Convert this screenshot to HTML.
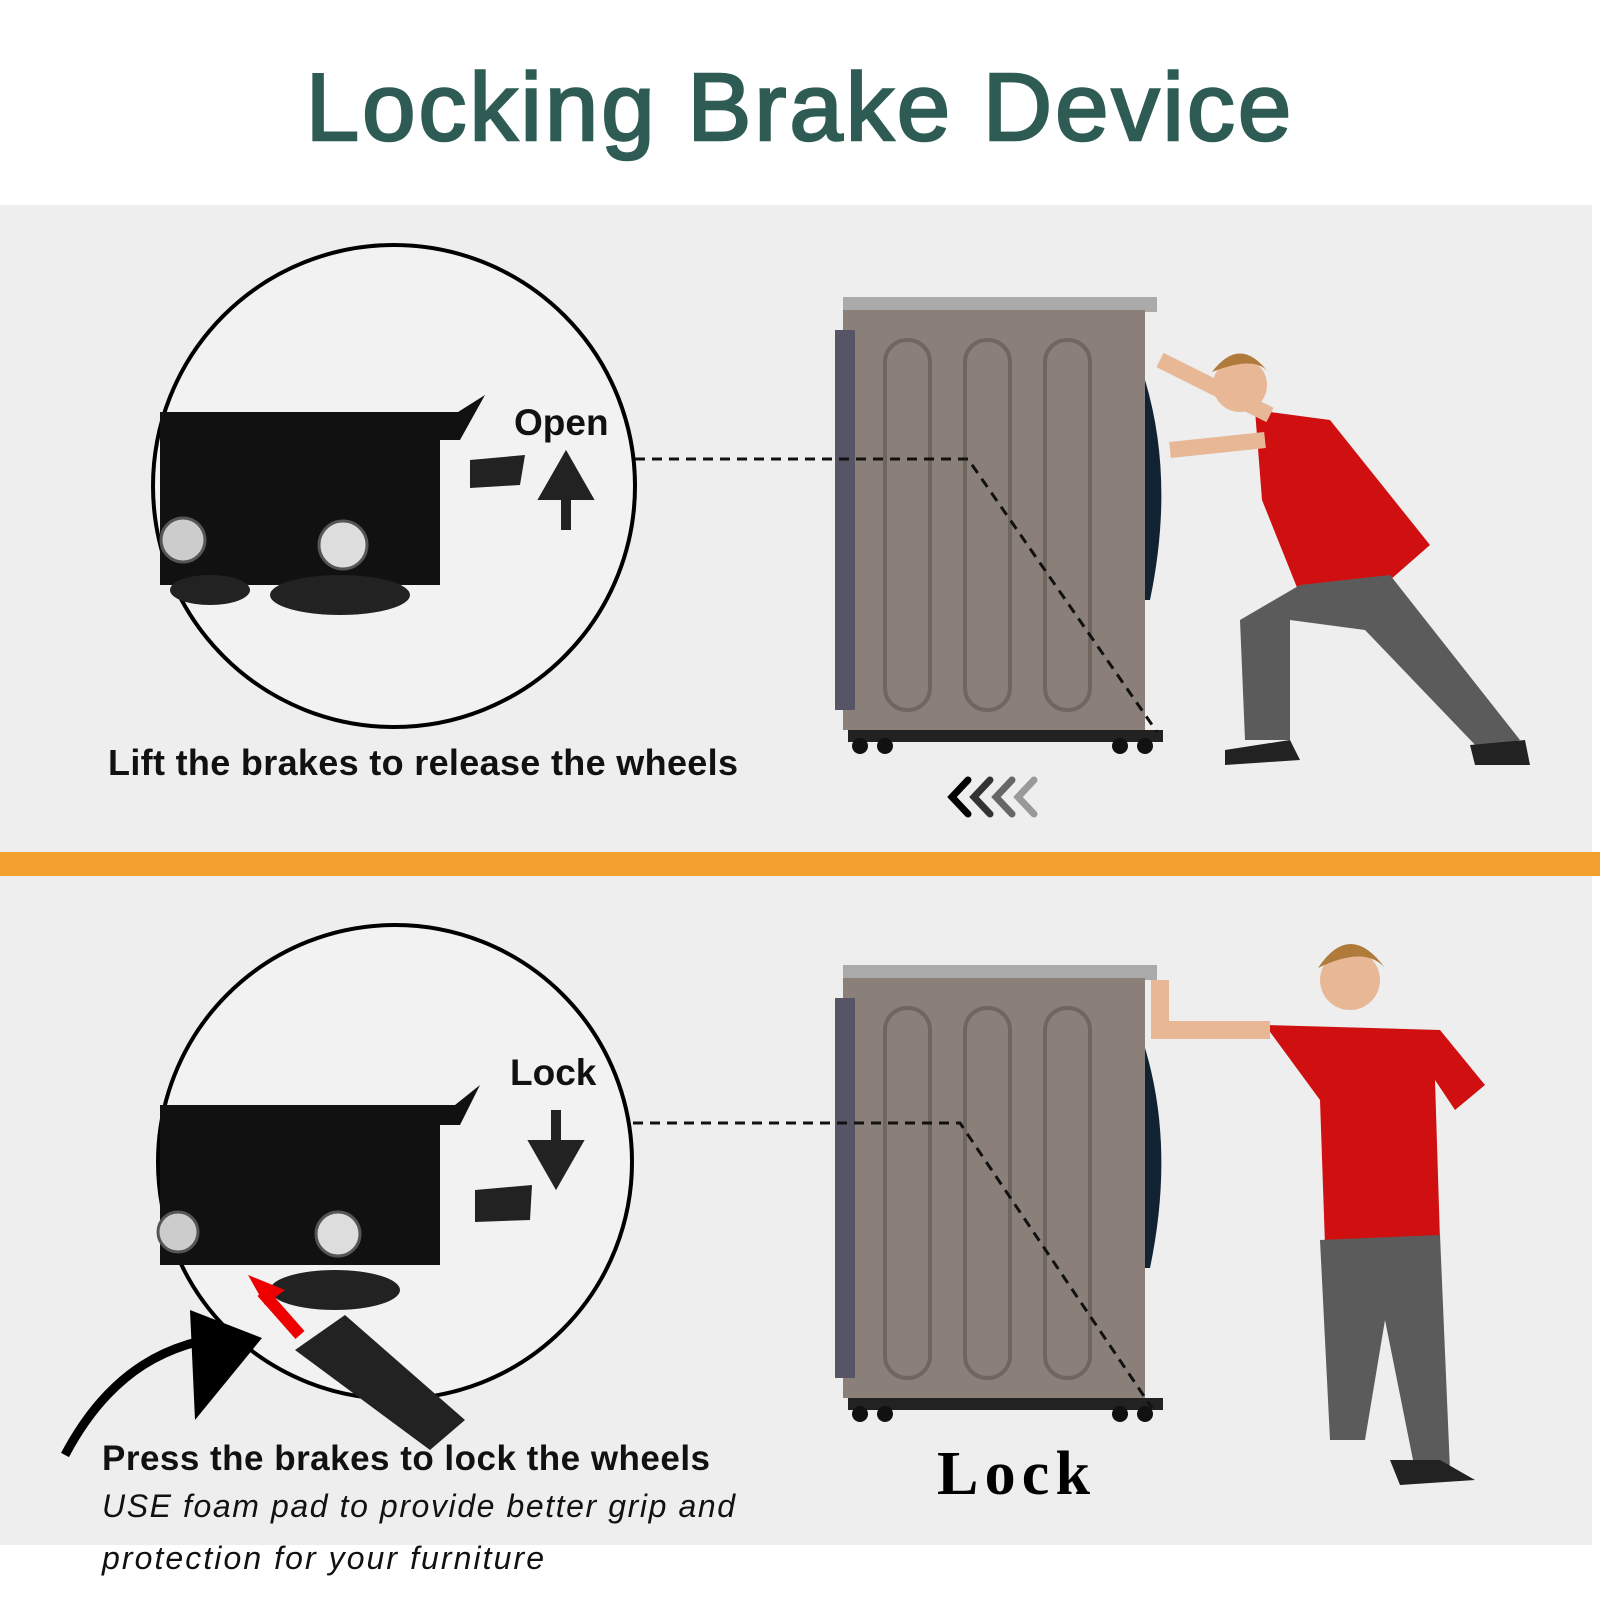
<!DOCTYPE html>
<html><head><style>
body{margin:0;width:1600px;height:1600px;background:#fff;overflow:hidden;position:relative;font-family:"Liberation Sans",sans-serif}
</style></head><body>
<svg width="1600" height="1600" xmlns="http://www.w3.org/2000/svg" style="position:absolute;left:0;top:0">
<rect x="0" y="0" width="1600" height="1600" fill="#fff"/>
<rect x="0" y="205" width="1592" height="1340" fill="#eeeeee"/>
<rect x="0" y="852" width="1600" height="24" fill="#f3a02f"/>
<text x="800" y="140" text-anchor="middle" font-family="Liberation Sans, sans-serif" font-size="96" fill="#2e5c54" stroke="#2e5c54" stroke-width="2.5" letter-spacing="3">Locking Brake Device</text>

<!-- circle 1 -->
<circle cx="394" cy="486" r="241" fill="#f2f2f2" stroke="#000" stroke-width="4"/>
<g>
<path d="M160 412 L458 412 L485 395 L460 440 L440 440 L440 585 L160 585 Z" fill="#111"/>
<path d="M470 460 L525 455 L520 485 L470 488 Z" fill="#222"/>
<circle cx="183" cy="540" r="22" fill="#ccc" stroke="#555" stroke-width="3"/>
<circle cx="343" cy="545" r="24" fill="#ddd" stroke="#555" stroke-width="3"/>
<ellipse cx="340" cy="595" rx="70" ry="20" fill="#222"/>
<ellipse cx="210" cy="590" rx="40" ry="15" fill="#222"/>
</g>
<text x="514" y="435" font-size="37" font-weight="bold" fill="#111">Open</text>
<path d="M566 530 L566 490 M546 495 L566 460 L586 495 Z" stroke="#222" stroke-width="10" fill="#222"/>
<text x="108" y="775" font-size="36" font-weight="bold" fill="#111" textLength="630">Lift the brakes to release the wheels</text>

<!-- circle 2 -->
<circle cx="395" cy="1162" r="237" fill="#f2f2f2" stroke="#000" stroke-width="4"/>
<path d="M160 1105 L455 1105 L480 1085 L460 1125 L440 1125 L440 1265 L160 1265 Z" fill="#111"/>
<path d="M475 1190 L532 1185 L530 1220 L475 1222 Z" fill="#222"/>
<circle cx="178" cy="1232" r="20" fill="#ccc" stroke="#555" stroke-width="3"/>
<circle cx="338" cy="1234" r="22" fill="#ddd" stroke="#555" stroke-width="3"/>
<ellipse cx="335" cy="1290" rx="65" ry="20" fill="#222"/>
<text x="510" y="1085" font-size="37" font-weight="bold" fill="#111">Lock</text>
<path d="M556 1110 L556 1150 M536 1145 L556 1180 L576 1145 Z" stroke="#222" stroke-width="10" fill="#222"/>
<path d="M300 1335 L262 1292" stroke="#e00" stroke-width="12"/>
<path d="M248 1275 L285 1290 L265 1305 Z" fill="#e00"/>
<path d="M295 1350 L345 1315 L465 1420 L430 1450 Z" fill="#222"/>
<path d="M65 1455 C110 1370 170 1340 240 1335" stroke="#000" stroke-width="9" fill="none"/>
<path d="M190 1310 L262 1338 L195 1420 Z" fill="#000"/>
<text x="102" y="1470" font-size="35" font-weight="bold" fill="#111" textLength="608">Press the brakes to lock the wheels</text>
<text x="102" y="1517" font-size="32" font-style="italic" fill="#111" textLength="633">USE foam pad to provide better grip and</text>
<text x="102" y="1569" font-size="32" font-style="italic" fill="#111" textLength="442">protection for your furniture</text>
<text x="937" y="1494" font-family="Liberation Serif, serif" font-size="62" font-weight="bold" fill="#000" textLength="153">Lock</text>

<!-- washers -->
<g id="w1">
<rect x="843" y="297" width="314" height="15" fill="#aaa"/>
<rect x="843" y="310" width="302" height="420" fill="#8a8079"/>
<rect x="835" y="330" width="20" height="380" fill="#556" />
<path d="M1145 380 Q1175 480 1150 600 L1145 600 Z" fill="#123"/>
<rect x="885" y="340" width="45" height="370" rx="22" fill="none" stroke="#6f6660" stroke-width="4"/>
<rect x="965" y="340" width="45" height="370" rx="22" fill="none" stroke="#6f6660" stroke-width="4"/>
<rect x="1045" y="340" width="45" height="370" rx="22" fill="none" stroke="#6f6660" stroke-width="4"/>
<rect x="848" y="730" width="315" height="12" fill="#222"/>
<circle cx="860" cy="746" r="8" fill="#111"/><circle cx="885" cy="746" r="8" fill="#111"/>
<circle cx="1120" cy="746" r="8" fill="#111"/><circle cx="1145" cy="746" r="8" fill="#111"/>
</g>
<use href="#w1" transform="translate(0,668)"/>
<path d="M635 459 L968 459 L1157 732" stroke="#111" stroke-width="3" stroke-dasharray="10,7" fill="none"/>
<path d="M633 1123 L960 1123 L1152 1408" stroke="#111" stroke-width="3" stroke-dasharray="10,7" fill="none"/>

<g stroke-width="7" fill="none" stroke-linecap="round">
<path d="M968 780 L952 797 L968 814" stroke="#000"/>
<path d="M990 780 L974 797 L990 814" stroke="#333"/>
<path d="M1012 780 L996 797 L1012 814" stroke="#666"/>
<path d="M1034 780 L1018 797 L1034 814" stroke="#999"/>
</g>

<!-- boy 1 -->
<circle cx="1240" cy="385" r="27" fill="#e8b896"/>
<path d="M1212 372 Q1240 335 1268 372 Q1255 355 1212 372Z" fill="#b07a3a"/>
<path d="M1255 410 L1330 420 L1430 545 L1390 580 L1300 595 L1262 500 Z" fill="#d01010"/>
<path d="M1160 360 L1270 415 M1170 450 L1265 440" stroke="#e8b896" stroke-width="16"/>
<path d="M1300 585 L1390 575 L1520 740 L1480 750 L1365 630 L1290 620 L1290 740 L1245 740 L1240 620 Z" fill="#5b5b5b"/>
<path d="M1225 750 L1290 740 L1300 760 L1225 765Z M1470 745 L1525 740 L1530 765 L1475 765Z" fill="#222"/>

<!-- boy 2 -->
<circle cx="1350" cy="980" r="30" fill="#e8b896"/>
<path d="M1318 968 Q1350 920 1385 968 Q1365 945 1318 968Z" fill="#b07a3a"/>
<path d="M1265 1025 L1440 1030 L1485 1085 L1455 1110 L1435 1080 L1440 1240 L1325 1245 L1320 1100 Z" fill="#d01010"/>
<path d="M1160 980 L1160 1030 L1270 1030" stroke="#e8b896" stroke-width="18" fill="none"/>
<path d="M1320 1240 L1440 1235 L1450 1470 L1415 1470 L1385 1320 L1365 1440 L1330 1440 Z" fill="#5b5b5b"/>
<path d="M1390 1460 L1440 1460 L1475 1480 L1400 1485Z" fill="#222"/>
</svg>
</body></html>
